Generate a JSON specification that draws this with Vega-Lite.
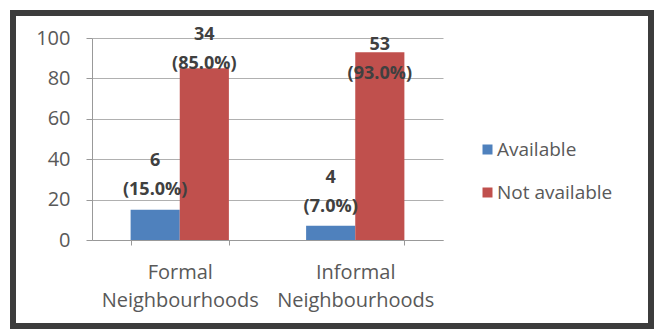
{
  "$schema": "https://vega.github.io/schema/vega-lite/v6.json",
  "width": 638,
  "height": 313,
  "autosize": {"type": "none"},
  "padding": {"left": 13, "top": 13, "right": 6, "bottom": 5},
  "background": "white",
  "config": {"view": {"stroke": "#3c3c3c", "strokeWidth": 6}, "font": "Open Sans"},
  "data": {"values": [
    {"area": "Formal Neighbourhoods", "status": "Available", "pct": 15, "count": 6, "pctLabel": "(15.0%)"},
    {"area": "Formal Neighbourhoods", "status": "Not available", "pct": 85, "count": 34, "pctLabel": "(85.0%)"},
    {"area": "Informal Neighbourhoods", "status": "Available", "pct": 7, "count": 4, "pctLabel": "(7.0%)"},
    {"area": "Informal Neighbourhoods", "status": "Not available", "pct": 93, "count": 53, "pctLabel": "(93.0%)"}
  ]},
  "encoding": {
    "x": {
      "field": "area", "type": "nominal", "sort": null,
      "scale": {"range": [79, 430], "paddingInner": 0.44, "paddingOuter": 0.22},
      "axis": {
        "title": null, "orient": "bottom", "offset": -86, "labelAngle": 0,
        "tickBand": "extent", "tickSize": 5, "labelPadding": 17,
        "labelFontSize": 20, "labelColor": "#595959", "labelLineHeight": 28,
        "labelExpr": "split(datum.label, ' ')",
        "domainColor": "#999999", "tickColor": "#999999", "grid": false
      }
    },
    "xOffset": {"field": "status", "type": "nominal", "scale": {"paddingInner": 0, "paddingOuter": 0}}
  },
  "layer": [
    {
      "mark": {"type": "bar"},
      "encoding": {
        "y": {
          "field": "pct", "type": "quantitative",
          "scale": {"domain": [0, 100], "range": [227, 25], "nice": false},
          "axis": {
            "title": null, "values": [0, 20, 40, 60, 80, 100], "offset": -79,
            "tickSize": 6, "labelPadding": 16, "labelFontSize": 20,
            "labelColor": "#595959", "domainColor": "#999999", "tickColor": "#999999",
            "gridColor": "#b0b0b0"
          }
        },
        "color": {
          "field": "status", "type": "nominal",
          "scale": {"domain": ["Available", "Not available"], "range": ["#4F81BD", "#C0504D"]},
          "legend": {
            "title": null, "orient": "none", "legendX": 465, "legendY": 127,
            "symbolType": "square", "symbolSize": 100, "symbolStrokeWidth": 0,
            "labelFontSize": 19, "labelColor": "#595959", "rowPadding": 23,
            "labelOffset": 0, "padding": 0
          }
        }
      }
    },
    {
      "mark": {"type": "text", "align": "center", "baseline": "alphabetic", "fontWeight": "bold", "fontSize": 18, "color": "#404040"},
      "encoding": {
        "y": {"field": "pct", "type": "quantitative", "scale": {"domain": [0, 15, 85, 93], "range": [214, 182, 56, 66], "nice": false, "zero": false}, "axis": null},
        "text": {"field": "pctLabel", "type": "nominal"}
      }
    },
    {
      "mark": {"type": "text", "align": "center", "baseline": "alphabetic", "fontWeight": "bold", "fontSize": 18, "color": "#404040", "dy": -29},
      "encoding": {
        "y": {"field": "pct", "type": "quantitative", "scale": {"domain": [0, 15, 85, 93], "range": [214, 182, 56, 66], "nice": false, "zero": false}, "axis": null},
        "text": {"field": "count", "type": "quantitative"}
      }
    }
  ],
  "resolve": {"scale": {"y": "independent"}}
}
